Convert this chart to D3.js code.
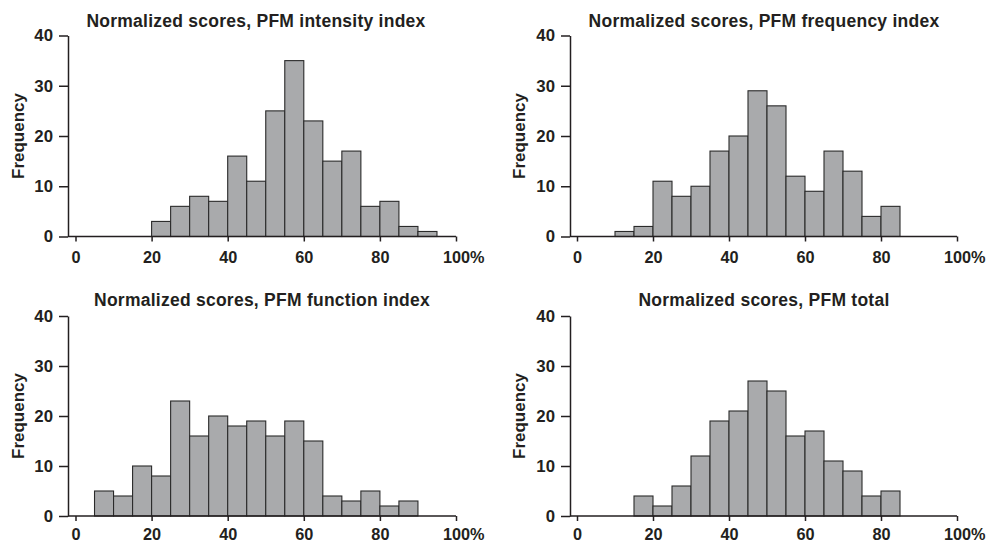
<!DOCTYPE html>
<html>
<head>
<meta charset="utf-8">
<script src="https://cdn.jsdelivr.net/npm/d3@7"></script>
<style>
  html, body { margin: 0; padding: 0; background: #fff; }
  svg { display: block; }
  text { font-family: "Liberation Sans", Arial, Helvetica, sans-serif; font-weight: bold; fill: #231f20; }
</style>
</head>
<body>
<svg id="chart" width="988" height="544"></svg>
<script>
// ---- data ----
const binStarts = [0, 5, 10, 15, 20, 25, 30, 35, 40, 45, 50, 55, 60, 65, 70, 75, 80, 85, 90, 95];
const binWidth = 5;
const intensityCounts = [0, 0, 0, 0, 3, 6, 8, 7, 16, 11, 25, 35, 23, 15, 17, 6, 7, 2, 1, 0];
const frequencyCounts = [0, 0, 1, 2, 11, 8, 10, 17, 20, 29, 26, 12, 9, 17, 13, 4, 6, 0, 0, 0];
const functionCounts  = [0, 5, 4, 10, 8, 23, 16, 20, 18, 19, 16, 19, 15, 4, 3, 5, 2, 3, 0, 0];
const totalCounts     = [0, 0, 0, 4, 2, 6, 12, 19, 21, 27, 25, 16, 17, 11, 9, 4, 5, 0, 0, 0];
const titles = [
  "Normalized scores, PFM intensity index",
  "Normalized scores, PFM frequency index",
  "Normalized scores, PFM function index",
  "Normalized scores, PFM total"
];
const xTicks = [0, 20, 40, 60, 80, 100];
const xTickLabels = ["0", "20", "40", "60", "80", "100%"];
const yTicks = [0, 10, 20, 30, 40];
const yLabel = "Frequency";

// ---- layout ----
const panels = [
  { counts: intensityCounts, title: titles[0], axisX: 68,  x0: 75.5, x1: 456, yTop: 35.5, yBot: 236.5, titleX: 256, titleY: 26.5, labelX: 24,  pad: 10 },
  { counts: frequencyCounts, title: titles[1], axisX: 570, x0: 577, x1: 957, yTop: 35.5, yBot: 236.5, titleX: 764, titleY: 26.5, labelX: 525, pad: 10 },
  { counts: functionCounts,  title: titles[2], axisX: 68,  x0: 75.5, x1: 456, yTop: 316, yBot: 516, titleX: 262, titleY: 306, labelX: 24,  pad: 7 },
  { counts: totalCounts,     title: titles[3], axisX: 570, x0: 577, x1: 957, yTop: 316, yBot: 516, titleX: 764, titleY: 306, labelX: 525, pad: 7 }
];

const svg = d3.select("#chart");
const ink = "#231f20";
const fontFam = '"Liberation Sans", Arial, sans-serif';

panels.forEach(p => {
  const g = svg.append("g");
  const x = d3.scaleLinear().domain([0, 100]).range([p.x0, p.x1]);
  const y = d3.scaleLinear().domain([0, 40]).range([p.yBot, p.yTop]);

  // bars
  const data = binStarts.map((s, i) => ({ s, c: p.counts[i] })).filter(d => d.c > 0);
  g.selectAll("rect.bar").data(data).enter().append("rect")
    .attr("class", "bar")
    .attr("x", d => x(d.s))
    .attr("y", d => y(d.c))
    .attr("width", d => x(d.s + binWidth) - x(d.s))
    .attr("height", d => y(0) - y(d.c))
    .attr("fill", "#a9aaac")
    .attr("stroke", "#2a2a2a")
    .attr("stroke-width", 1.1);

  // x axis
  const xAxis = d3.axisBottom(x).tickValues(xTicks)
    .tickFormat((d, i) => xTickLabels[i]).tickSize(5).tickSizeOuter(0).tickPadding(p.pad);
  const xg = g.append("g").attr("transform", `translate(0,${y(0)})`).call(xAxis);
  xg.select(".domain").remove();
  xg.selectAll(".tick line").attr("stroke", ink).attr("stroke-width", 1.5);
  xg.selectAll(".tick text").attr("font-size", 16.3).attr("fill", ink)
    .style("font-family", fontFam).style("font-weight", "bold");
  // "100%": centre the number on its tick, let the % sign hang to the right
  xg.selectAll(".tick text").each(function (d, i) {
    const lab = xTickLabels[i];
    if (lab.endsWith("%")) {
      const w = this.getSubStringLength(0, lab.length - 1);
      d3.select(this).attr("text-anchor", "start").attr("x", -w / 2);
    }
  });
  // baseline from y-axis to 100
  g.append("line").attr("x1", p.axisX).attr("x2", x(100)).attr("y1", y(0)).attr("y2", y(0))
    .attr("stroke", ink).attr("stroke-width", 1.5);

  // y axis
  const yAxis = d3.axisLeft(y).tickValues(yTicks).tickSize(9).tickSizeOuter(0).tickPadding(6);
  const yg = g.append("g").attr("transform", `translate(${p.axisX},0)`).call(yAxis);
  yg.select(".domain").attr("stroke", ink).attr("stroke-width", 1.5);
  yg.selectAll(".tick line").attr("stroke", ink).attr("stroke-width", 1.5);
  yg.selectAll(".tick text").attr("font-size", 16.8).attr("fill", ink)
    .style("font-family", fontFam).style("font-weight", "bold");

  // title
  g.append("text").attr("x", p.titleX).attr("y", p.titleY)
    .attr("text-anchor", "middle").attr("font-size", 17.5)
    .attr("letter-spacing", 0.25).text(p.title);

  // y label
  g.append("text")
    .attr("transform", `translate(${p.labelX},${(p.yTop + p.yBot) / 2}) rotate(-90)`)
    .attr("text-anchor", "middle").attr("font-size", 17).text(yLabel);
});
</script>
</body>
</html>
